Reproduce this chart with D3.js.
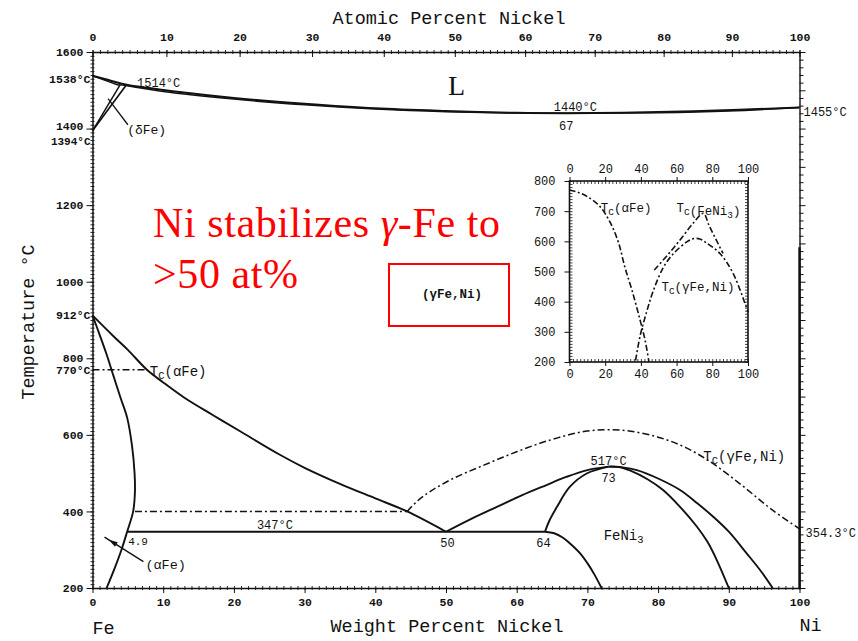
<!DOCTYPE html>
<html><head><meta charset="utf-8">
<script src="https://cdn.jsdelivr.net/npm/d3@7"></script>
<style>
body{margin:0;background:#fff;}
svg{display:block;}
</style></head><body>
<svg id="chart" width="858" height="641"></svg>
<script>
// ---------- axis ticks ----------
const wtTicks = [0,10,20,30,40,50,60,70,80,90,100];
const atTicks = [0,10,20,30,40,50,60,70,80,90,100];
const tempTicks = [200,400,600,800,1000,1200,1400,1600];
const insetXTicks = [0,20,40,60,80,100];
const insetYTicks = [200,300,400,500,600,700,800];

// ---------- Fe-Ni phase boundaries [wt% Ni, °C] ----------
const liquidus = [[0,1538],[2,1528],[4,1518],[5,1514],[8,1506],[12,1496],[20,1480],[30,1465],[40,1453],[50,1446],[60,1441],[67,1440],[75,1441],[85,1445],[100,1455]];
const deltaSolidus = [[0,1538],[1.5,1528],[3.6,1514]];
const gammaSolidus = [[4.3,1514],[10,1497],[20,1477],[30,1462],[40,1451],[50,1444],[60,1440.5],[67,1440],[80,1441.5],[90,1446],[100,1455]];
const peritectic = [[3.6,1514],[5,1514]];
const deltaBoundary = [[0,1394],[3.9,1514]];
const gammaDeltaBoundary = [[0,1394],[4.7,1512]];
const alphaBoundary = [[0,912],[1,862],[2,810],[3,752],[4,695],[4.9,645],[5.6,570],[5.95,500],[6.0,450],[5.75,400],[4.9,347],[4.1,300],[3.1,250],[2.0,200]];
const gammaAlphaBoundary = [[0,912],[3,857],[5,822],[7.7,770],[10,737],[13,697],[17,652],[21,608],[26.5,548],[30,514],[35,472],[40,434],[44.5,400],[50,347]];
const eutectoid = [[4.9,347],[64,347]];
const gammaFeNi3Left = [[50,347],[53.5,380],[57.2,412],[60.7,442],[64.2,469],[67,490],[70,508],[73,517]];
const feNi3Left = [[64,347],[64.6,375],[65.7,412],[67.5,464],[69.9,499],[73,517]];
const feNi3Right = [[73,517],[74.5,516],[76,507],[78.5,484],[80.7,456],[83,414],[85.5,360],[87,320],[88.3,273],[90,200]];
const gammaFeNi3Right = [[73,517],[75,515],[77,508],[80,486],[83.1,456],[85.5,422],[87.8,386],[90,347],[92.5,291],[94.5,245],[96.2,200]];
const feNi3Lower = [[64,347],[65.3,343],[66.5,332],[67.5,317],[69,290],[70,265],[71,235],[72,200]];

// ---------- magnetic transitions (dash-dot) ----------
const curieAlpha = [[0,770],[7.7,770]];
const curieMiscibility = [[6.0,400],[44.5,400]];
const curieGamma = [[44.5,400],[46,428],[48,455],[51,486],[55,518],[60,556],[65,588],[70,610],[75,612],[80,594],[84,566],[88,522],[92,466],[96,406],[100,354.3]];

// ---------- inset: Curie temperatures ----------
const insetCurieAlpha = [[0,770],[5,762],[10,748],[17,716],[23,660],[27.5,595],[31,515],[35,438],[39.5,340],[42.5,268],[44.5,200]];
const insetCurieGamma = [[37,205],[39.7,290],[43.4,370],[47,437],[52.6,514],[58.2,559],[65.7,598],[69.4,609],[73,608],[76.9,594],[84.4,559],[91.8,492],[100,365]];
const insetCurieFeNi3 = [[47.5,505],[55,555],[62,605],[69,658],[75,693],[78,655],[82,607],[86,560]];

// atomic % -> weight % Ni
const atToWt = a => a * 58.693 / (a * 58.693 + (100 - a) * 55.845) * 100;

const svg = d3.select("#chart");
const INK = "#121212";
const MONO = "'Liberation Mono', 'DejaVu Sans Mono', monospace";
const SERIF = "'Liberation Serif', 'Times New Roman', serif";
const fmt = d3.format("d");

const x = d3.scaleLinear().domain([0,100]).range([92.5,799.5]);
const y = d3.scaleLinear().domain([200,1600]).range([588,52]);
const atGrid = d3.range(0,101,1);
const xAt = d3.scaleLinear().domain(atGrid).range(atGrid.map(a => x(atToWt(a))));

function styleAxis(g, size, weight){
  g.attr("font-family", MONO).attr("font-size", size).attr("font-weight", weight || "normal");
  g.selectAll("line").attr("stroke", INK);
  g.selectAll("path").attr("stroke", INK);
  g.selectAll("text").attr("fill", INK);
}
function minor(axis, transform){
  const g = svg.append("g").attr("transform", transform).call(axis.tickFormat(""));
  g.select(".domain").remove();
  g.selectAll("line").attr("stroke", INK).attr("stroke-width", 0.9);
  return g;
}

// ---- main frame & axes ----
minor(d3.axisBottom(x).tickValues(d3.range(0,101,1)).tickSize(4), `translate(0,${y(200)-2})`);
const gB = svg.append("g").attr("transform", `translate(0,${y(200)})`)
  .call(d3.axisBottom(x).tickValues(wtTicks).tickSize(5).tickSizeOuter(0).tickPadding(5).tickFormat(fmt));
styleAxis(gB, 11.5, "bold");
gB.select(".domain").attr("stroke-width", 1.4);

minor(d3.axisTop(xAt).tickValues(d3.range(0,101,1)).tickSize(4), `translate(0,${y(1600)+2})`);
const gT = svg.append("g").attr("transform", `translate(0,${y(1600)})`)
  .call(d3.axisTop(xAt).tickValues(atTicks).tickSize(5).tickSizeOuter(0).tickPadding(6).tickFormat(fmt));
styleAxis(gT, 11.5, "bold");
gT.select(".domain").attr("stroke-width", 1.4);
gT.selectAll(".tick line").attr("y2", 5).attr("y1", -2);

minor(d3.axisLeft(y).tickValues(d3.range(200,1601,10)).tickSize(4), `translate(${x(0)+2},0)`);
const gL = svg.append("g").attr("transform", `translate(${x(0)},0)`)
  .call(d3.axisLeft(y).tickValues(tempTicks).tickSize(6).tickSizeOuter(0).tickPadding(3).tickFormat(fmt));
styleAxis(gL, 11.5, "bold");
gL.select(".domain").attr("stroke-width", 1.5);
gL.selectAll(".tick").filter(d => d === 1400).select("text").attr("dy", "0.1em");

const gR = svg.append("g").attr("transform", `translate(${x(100)},0)`)
  .call(d3.axisRight(y).tickValues(d3.range(200,1601,20)).tickSize(4).tickSizeOuter(0).tickFormat(""));
styleAxis(gR, 10);
gR.select(".domain").attr("stroke-width", 1.4);
gR.selectAll(".tick").filter(d => d % 100 === 0).select("line").attr("x2", 6);
svg.append("line").attr("x1", x(100)).attr("x2", x(100)).attr("y1", y(1090)).attr("y2", y(200))
  .attr("stroke", INK).attr("stroke-width", 2.4);

// ---- phase boundaries ----
const line = d3.line().x(d => x(d[0])).y(d => y(d[1])).curve(d3.curveCatmullRom.alpha(0.5));
const straight = d3.line().x(d => x(d[0])).y(d => y(d[1]));
function solid(data, gen, w){
  svg.append("path").attr("d", (gen || line)(data)).attr("fill", "none")
    .attr("stroke", INK).attr("stroke-width", w || 1.9).attr("stroke-linejoin", "round");
}
function dashDot(data, gen, w){
  svg.append("path").attr("d", (gen || line)(data)).attr("fill", "none")
    .attr("stroke", INK).attr("stroke-width", w || 1.5).attr("stroke-dasharray", "7,3,2,3");
}
solid(liquidus, line, 2);
solid(deltaSolidus, line, 1.5);
solid(gammaSolidus, line, 1.5);
solid(peritectic, straight, 1.5);
solid(deltaBoundary, straight, 1.5);
solid(gammaDeltaBoundary, straight, 1.7);
solid(alphaBoundary);
solid(gammaAlphaBoundary);
solid(eutectoid, straight, 2.1);
solid(gammaFeNi3Left);
solid(feNi3Left);
solid(feNi3Right);
solid(gammaFeNi3Right);
solid(feNi3Lower);
dashDot(curieAlpha, straight);
dashDot(curieMiscibility, straight);
dashDot(curieGamma);

// leader for (δFe)
svg.append("path").attr("d", straight([[2.2,1478],[5.0,1410]]))
  .attr("stroke", INK).attr("stroke-width", 1.3).attr("fill", "none");
// leader arrow for (αFe)
const arrowTail = [7.2,269], arrowTip = [1.7,333];
svg.append("path").attr("d", straight([arrowTail, arrowTip]))
  .attr("stroke", INK).attr("stroke-width", 1.4).attr("fill", "none");
{
  const tx = x(arrowTip[0]), ty = y(arrowTip[1]);
  const ang = Math.atan2(y(arrowTail[1]) - ty, x(arrowTail[0]) - tx);
  const bx = tx + Math.cos(ang) * 5, by = ty + Math.sin(ang) * 5;     // head sits a little back from the tip
  const ex = bx + Math.cos(ang) * 9, ey = by + Math.sin(ang) * 9;
  const nx = -Math.sin(ang) * 2.6, ny = Math.cos(ang) * 2.6;
  svg.append("path").attr("d", `M${bx},${by}L${ex + nx},${ey + ny}L${ex - nx},${ey - ny}Z`).attr("fill", INK);
}

// ---- text helpers ----
function label(txt, px, py, opt){
  opt = opt || {};
  const t = svg.append("text").attr("x", px).attr("y", py)
    .attr("font-family", opt.family || MONO).attr("font-size", opt.size || 12.5)
    .attr("font-weight", opt.weight || "normal")
    .attr("text-anchor", opt.anchor || "start").attr("fill", opt.fill || INK);
  if (Array.isArray(txt)) {
    txt.forEach(p => {
      const s = t.append("tspan").text(p.t);
      if (p.sub) s.attr("font-size", (opt.size || 12.5) * 0.75).attr("dy", 3);
      if (p.up) s.attr("dy", -3);
      if (p.italic) s.attr("font-style", "italic");
    });
  } else t.text(txt);
  return t;
}

// axis titles
label("Atomic Percent Nickel", 449, 24, {size: 18.5, anchor: "middle"});
label("Weight Percent Nickel", 447, 632, {size: 18.5, anchor: "middle"});
label("Fe", x(0), 634, {size: 18.5});
label("Ni", x(100), 631, {size: 18.5});
svg.append("text").attr("transform", "translate(34,322) rotate(-90)")
  .attr("font-family", MONO).attr("font-size", 18.5).attr("text-anchor", "middle")
  .attr("fill", INK).text("Temperature °C");

// invariant temperatures on the axes
label("1538°C", x(0) - 2, y(1538) + 7, {size: 11.5, weight: "bold", anchor: "end"});
label("1394°C", x(0) - 2, y(1394) + 14, {size: 11, weight: "bold", anchor: "end"});
label("912°C", x(0) - 2, y(912) + 4, {size: 11.5, weight: "bold", anchor: "end"});
label("770°C", x(0) - 2, y(770) + 4, {size: 11.5, weight: "bold", anchor: "end"});
label("1455°C", x(100) + 4, y(1455) + 8, {size: 12});
label("354.3°C", x(100) + 6, y(354.3) + 8, {size: 12});

// field & point labels
label("L", x(51.5), 95, {family: SERIF, size: 28, anchor: "middle"});
label("1514°C", x(6.3), 87, {size: 12});
label("(δFe)", x(4.9), 134, {size: 13});
label("1440°C", x(68.3), y(1440) - 2, {size: 12, anchor: "middle"});
label("67", x(67), y(1440) + 17, {size: 12, anchor: "middle"});
label([{t:"T"},{t:"C",sub:true},{t:"(αFe)",up:true}], x(8.1), 376, {size: 14});
label([{t:"T"},{t:"C",sub:true},{t:"(γFe,Ni)",up:true}], x(86.4), 461, {size: 14});
label("517°C", x(73), y(517) - 2, {size: 12, anchor: "middle"});
label("73", x(73), y(517) + 15, {size: 12, anchor: "middle"});
label([{t:"FeNi"},{t:"3",sub:true}], x(72.3), 540, {size: 14});
label("347°C", x(25.8), y(347) - 3, {size: 12, anchor: "middle"});
label("4.9", x(4.9) + 1, y(347) + 13, {size: 11});
label("50", x(50.2), y(347) + 15, {size: 12, anchor: "middle"});
label("64", x(63.8), y(347) + 15, {size: 12, anchor: "middle"});
label("(αFe)", x(7.2) + 2, 569, {size: 13.5});

// annotation
const note = svg.append("text").attr("font-family", SERIF).attr("font-size", 42)
  .attr("letter-spacing", 0.6).attr("fill", "#ff0000");
const l1 = note.append("tspan").attr("x", 153).attr("y", 237);
l1.append("tspan").text("Ni stabilizes ");
l1.append("tspan").attr("font-style", "italic").text("γ");
l1.append("tspan").text("-Fe to");
note.append("tspan").attr("x", 153).attr("y", 288).text(">50 at%");
svg.append("rect").attr("x", 389).attr("y", 264).attr("width", 120).attr("height", 62)
  .attr("fill", "none").attr("stroke", "#ff0000").attr("stroke-width", 2);
label("(γFe,Ni)", 452, 298, {size: 12.5, anchor: "middle", weight: "bold"});

// ---- inset: magnetic transitions ----
const xi = d3.scaleLinear().domain([0,100]).range([569.5,748]);
const yi = d3.scaleLinear().domain([200,800]).range([362,181]);
svg.append("rect").attr("x", xi(0)).attr("y", yi(800)).attr("width", xi(100) - xi(0)).attr("height", yi(200) - yi(800))
  .attr("fill", "#fff").attr("stroke", INK).attr("stroke-width", 1.6);

function insetMinor(axis, transform){
  const g = svg.append("g").attr("transform", transform).call(axis.tickFormat("").tickSizeOuter(0));
  g.select(".domain").remove();
  g.selectAll("line").attr("stroke", INK).attr("stroke-width", 0.8);
}
insetMinor(d3.axisBottom(xi).tickValues(d3.range(0,101,2)).tickSize(-3), `translate(0,${yi(200)})`);
insetMinor(d3.axisTop(xi).tickValues(d3.range(0,101,2)).tickSize(-3), `translate(0,${yi(800)})`);
insetMinor(d3.axisLeft(yi).tickValues(d3.range(200,801,10)).tickSize(-3), `translate(${xi(0)},0)`);
insetMinor(d3.axisRight(yi).tickValues(d3.range(200,801,10)).tickSize(-3), `translate(${xi(100)},0)`);

const giB = svg.append("g").attr("transform", `translate(0,${yi(200)})`)
  .call(d3.axisBottom(xi).tickValues(insetXTicks).tickSize(4).tickSizeOuter(0).tickPadding(3).tickFormat(fmt));
const giT = svg.append("g").attr("transform", `translate(0,${yi(800)})`)
  .call(d3.axisTop(xi).tickValues(insetXTicks).tickSize(4).tickSizeOuter(0).tickPadding(4).tickFormat(fmt));
const giL = svg.append("g").attr("transform", `translate(${xi(0)},0)`)
  .call(d3.axisLeft(yi).tickValues(insetYTicks).tickSize(5).tickSizeOuter(0).tickPadding(9).tickFormat(fmt));
[giB, giT, giL].forEach(g => { styleAxis(g, 12); g.select(".domain").remove(); });

const lineI = d3.line().x(d => xi(d[0])).y(d => yi(d[1])).curve(d3.curveCatmullRom.alpha(0.5));
[insetCurieAlpha, insetCurieGamma, insetCurieFeNi3].forEach(d => {
  svg.append("path").attr("d", lineI(d)).attr("fill", "none").attr("stroke", INK)
    .attr("stroke-width", 1.6).attr("stroke-dasharray", "6,2.5,2,2.5");
});
label([{t:"T"},{t:"C",sub:true},{t:"(αFe)",up:true}], xi(17.5), 212, {size: 12.5});
label([{t:"T"},{t:"C",sub:true},{t:"(FeNi"},{t:"3",sub:true},{t:")",up:true}], xi(60), 212, {size: 12.5});
label([{t:"T"},{t:"C",sub:true},{t:"(γFe,Ni)",up:true}], xi(51.5), 291, {size: 12.5});
</script>
</body></html>
